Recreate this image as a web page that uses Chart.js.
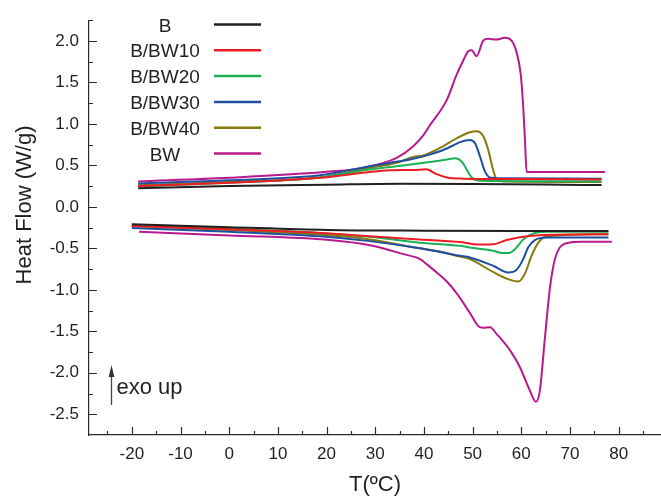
<!DOCTYPE html>
<html>
<head>
<meta charset="utf-8">
<title>DSC curves</title>
<script src="https://cdn.jsdelivr.net/npm/chart.js@4.4.1/dist/chart.umd.min.js"></script>
<style>
  html, body { margin: 0; padding: 0; background: #fff; }
  #wrap { width: 661px; height: 498px; position: relative; }
</style>
</head>
<body>
<div id="wrap"><canvas id="dsc"></canvas></div>
<script>
// sample names and colours
const sampleNames = ['B', 'B/BW10', 'B/BW20', 'B/BW30', 'B/BW40', 'BW'];
const sampleColors = ['#231f20', '#ec1c24', '#1cb159', '#1f4fa0', '#857a0a', '#b8198c'];

// upper branch (T in ºC, heat flow in W/g)
const tB_up = [-18.7, 0, 20, 35, 50, 65, 76.5];
const hfB_up = [0.224, 0.25, 0.268, 0.28, 0.277, 0.27, 0.262];
const tBW10_up = [-18.7, 0, 18.6, 28.9, 33, 37.8, 40.5, 42.6, 44.7, 48.1, 60, 76.5];
const hfBW10_up = [0.25, 0.29, 0.35, 0.42, 0.44, 0.445, 0.452, 0.394, 0.354, 0.34, 0.335, 0.33];
const tBW20_up = [-18.7, 0, 18.6, 28.9, 34.4, 41.2, 44.7, 46.4, 47.7, 48.8, 49.8, 51.5, 60, 76.3];
const hfBW20_up = [0.245, 0.29, 0.354, 0.45, 0.49, 0.54, 0.57, 0.586, 0.55, 0.45, 0.354, 0.315, 0.31, 0.31];
const tBW30_up = [-18.7, 0, 18.6, 28.9, 33, 37.8, 41.2, 43.3, 46, 47.4, 49.45, 50.5, 51.5, 52.5, 53.5, 56, 76.5];
const hfBW30_up = [0.283, 0.32, 0.38, 0.49, 0.53, 0.58, 0.63, 0.67, 0.74, 0.78, 0.805, 0.767, 0.61, 0.433, 0.354, 0.345, 0.34];
const tBW40_up = [-18.7, 0, 18.6, 28.9, 34.4, 37.8, 39.9, 43.3, 46.7, 49.45, 50.8, 52.2, 53.2, 54.2, 54.9, 56, 76.5];
const hfBW40_up = [0.26, 0.30, 0.354, 0.47, 0.53, 0.60, 0.62, 0.71, 0.825, 0.90, 0.91, 0.85, 0.69, 0.45, 0.335, 0.31, 0.30];
const tBW_up = [-18.7, 0, 20.7, 27.5, 34.4, 37.8, 39.9, 41.2, 44.7, 46.7, 48.2, 49.1, 49.8, 50.8, 52.2, 53.2, 54.9, 56.6, 58.0, 59.0, 59.9, 60.4, 60.75, 61.1, 77.2];
const hfBW_up = [0.307, 0.35, 0.425, 0.47, 0.59, 0.73, 0.865, 0.98, 1.29, 1.59, 1.78, 1.875, 1.887, 1.816, 2.005, 2.025, 2.017, 2.037, 2.005, 1.87, 1.59, 1.2, 0.81, 0.42, 0.42];

// lower branch
const tB_low = [-20, 0, 20, 40, 60, 77.9];
const hfB_low = [-0.21, -0.245, -0.278, -0.287, -0.29, -0.29];
const tBW10_low = [-20, 0, 18.6, 28.9, 39.2, 47.4, 49.45, 52, 54.2, 57, 59.7, 64.5, 77.9];
const hfBW10_low = [-0.23, -0.27, -0.314, -0.355, -0.393, -0.424, -0.443, -0.455, -0.452, -0.40, -0.365, -0.338, -0.33];
const tBW20_low = [-20, 0, 18.6, 28.9, 39.2, 47.4, 49.45, 54.2, 56, 57.5, 58.7, 60.4, 62.5, 65, 77.9];
const hfBW20_low = [-0.224, -0.265, -0.314, -0.361, -0.432, -0.47, -0.49, -0.53, -0.555, -0.555, -0.51, -0.393, -0.32, -0.30, -0.30];
const tBW30_low = [-20, 0, 18.6, 28.9, 39.2, 47.4, 49.45, 54.2, 57.3, 59, 60.4, 61.4, 62.8, 65.3, 77.9];
const hfBW30_low = [-0.255, -0.30, -0.354, -0.413, -0.50, -0.59, -0.61, -0.71, -0.79, -0.76, -0.63, -0.49, -0.40, -0.37, -0.37];
const tBW40_low = [-20, 0, 18.6, 28.9, 39.2, 43, 47.4, 49.45, 54.2, 57.7, 59.4, 60.75, 62.1, 63.5, 65.3, 77.9];
const hfBW40_low = [-0.23, -0.28, -0.334, -0.393, -0.50, -0.535, -0.60, -0.63, -0.785, -0.88, -0.90, -0.805, -0.59, -0.43, -0.354, -0.33];
const tBW_low = [-18.5, 0, 20.7, 28.9, 35.8, 39.2, 40.55, 43.3, 44.7, 46.7, 49.45, 51.2, 52.2, 53.6, 54.9, 57.7, 59.7, 61.8, 63.0, 63.8, 64.9, 65.9, 66.9, 67.9, 70.0, 72.1, 78.6];
const hfBW_low = [-0.30, -0.345, -0.40, -0.463, -0.57, -0.63, -0.69, -0.825, -0.90, -1.04, -1.28, -1.44, -1.458, -1.45, -1.53, -1.73, -1.93, -2.22, -2.35, -2.22, -1.55, -0.97, -0.63, -0.49, -0.43, -0.42, -0.42];

// axis ticks
const xTicks = [-20, -10, 0, 10, 20, 30, 40, 50, 60, 70, 80];
const yTicks = [-2.5, -2.0, -1.5, -1.0, -0.5, 0.0, 0.5, 1.0, 1.5, 2.0];

const upper = [[tB_up, hfB_up], [tBW10_up, hfBW10_up], [tBW20_up, hfBW20_up],
               [tBW30_up, hfBW30_up], [tBW40_up, hfBW40_up], [tBW_up, hfBW_up]];
const lower = [[tB_low, hfB_low], [tBW10_low, hfBW10_low], [tBW20_low, hfBW20_low],
               [tBW30_low, hfBW30_low], [tBW40_low, hfBW40_low], [tBW_low, hfBW_low]];

const axisColor = '#2b2b2b';
const textColor = '#231f20';
const fontFamily = '"Liberation Sans", Arial, Helvetica, sans-serif';

function toPoints(ts, vals) {
  return ts.map((t, i) => ({ x: t, y: vals[i] }));
}

function makeSet(pair, idx, branch) {
  return {
    label: sampleNames[idx] + ' ' + branch,
    data: toPoints(pair[0], pair[1]),
    borderColor: sampleColors[idx],
    borderWidth: 2,
    pointRadius: 0,
    showLine: true,
    fill: false,
    cubicInterpolationMode: 'monotone'
  };
}

const datasets = [];
lower.forEach((p, i) => datasets.push(makeSet(p, i, 'cooling')));
upper.forEach((p, i) => datasets.push(makeSet(p, i, 'heating')));

// inward ticks, legend, axis titles and the exo arrow
const decor = {
  id: 'decor',
  afterDraw(chart) {
    const { ctx, chartArea: a, scales: { x, y } } = chart;
    ctx.save();

    ctx.strokeStyle = axisColor;
    ctx.lineWidth = 1.2;
    ctx.beginPath();
    xTicks.forEach(v => {
      const p = Math.round(x.getPixelForValue(v)) + 0.5;
      ctx.moveTo(p, a.bottom); ctx.lineTo(p, a.bottom - 8);
    });
    for (let v = -25; v <= 85; v += 10) {
      const p = Math.round(x.getPixelForValue(v)) + 0.5;
      ctx.moveTo(p, a.bottom); ctx.lineTo(p, a.bottom - 4);
    }
    yTicks.forEach(v => {
      const p = Math.round(y.getPixelForValue(v)) + 0.5;
      ctx.moveTo(a.left, p); ctx.lineTo(a.left + 8, p);
    });
    for (let v = -2.25; v <= 2.26; v += 0.5) {
      const p = Math.round(y.getPixelForValue(v)) + 0.5;
      ctx.moveTo(a.left, p); ctx.lineTo(a.left + 4, p);
    }
    ctx.stroke();

    // legend
    ctx.font = '19px ' + fontFamily;
    ctx.fillStyle = textColor;
    ctx.textAlign = 'center';
    ctx.textBaseline = 'alphabetic';
    sampleNames.forEach((name, i) => {
      const base = 31.5 + i * 25.8;
      ctx.fillText(name, 165, base);
      ctx.strokeStyle = sampleColors[i];
      ctx.lineWidth = 2.5;
      ctx.beginPath();
      ctx.moveTo(214, base - 7);
      ctx.lineTo(261, base - 7);
      ctx.stroke();
    });

    // x title
    ctx.font = '22px ' + fontFamily;
    ctx.textAlign = 'center';
    ctx.fillText('T(ºC)', (a.left + a.right) / 2, 491);

    // y title
    ctx.save();
    ctx.translate(31, 205);
    ctx.rotate(-Math.PI / 2);
    ctx.fillText('Heat Flow (W/g)', 0, 0);
    ctx.restore();

    // exo up
    ctx.strokeStyle = '#444';
    ctx.lineWidth = 1.3;
    ctx.beginPath();
    ctx.moveTo(111.5, 405);
    ctx.lineTo(111.5, 374);
    ctx.stroke();
    ctx.fillStyle = '#333';
    ctx.beginPath();
    ctx.moveTo(111.5, 365);
    ctx.lineTo(114.3, 377);
    ctx.lineTo(108.7, 377);
    ctx.closePath();
    ctx.fill();
    ctx.fillStyle = textColor;
    ctx.font = '22px ' + fontFamily;
    ctx.textAlign = 'left';
    ctx.fillText('exo up', 116.5, 394);

    ctx.restore();
  }
};

const ctx = document.getElementById('dsc').getContext('2d');
const dscChart = new Chart(ctx, {
  type: 'scatter',
  data: { datasets: datasets },
  options: {
    responsive: true,
    maintainAspectRatio: false,
    animation: false,
    devicePixelRatio: 1,
    layout: { padding: { top: 11, right: 0, bottom: 0, left: 0 } },
    plugins: {
      legend: { display: false },
      tooltip: { enabled: false }
    },
    scales: {
      x: {
        type: 'linear',
        min: -28.8,
        max: 88.7,
        afterBuildTicks: s => { s.ticks = xTicks.map(v => ({ value: v })); },
        afterFit: s => { s.height = 63; },
        grid: { display: false, drawTicks: false },
        border: { display: true, color: axisColor, width: 1.2 },
        ticks: {
          color: textColor,
          font: { family: fontFamily, size: 17 },
          padding: 9,
          maxRotation: 0,
          autoSkip: false,
          callback: v => String(v)
        }
      },
      y: {
        type: 'linear',
        min: -2.75,
        max: 2.25,
        afterBuildTicks: s => { s.ticks = yTicks.map(v => ({ value: v })); },
        afterFit: s => { s.width = 89; },
        grid: { display: false, drawTicks: false },
        border: { display: true, color: axisColor, width: 1.2 },
        ticks: {
          color: textColor,
          font: { family: fontFamily, size: 17 },
          padding: 10,
          autoSkip: false,
          callback: v => v.toFixed(1)
        }
      }
    }
  },
  plugins: [decor]
});
</script>
</body>
</html>
